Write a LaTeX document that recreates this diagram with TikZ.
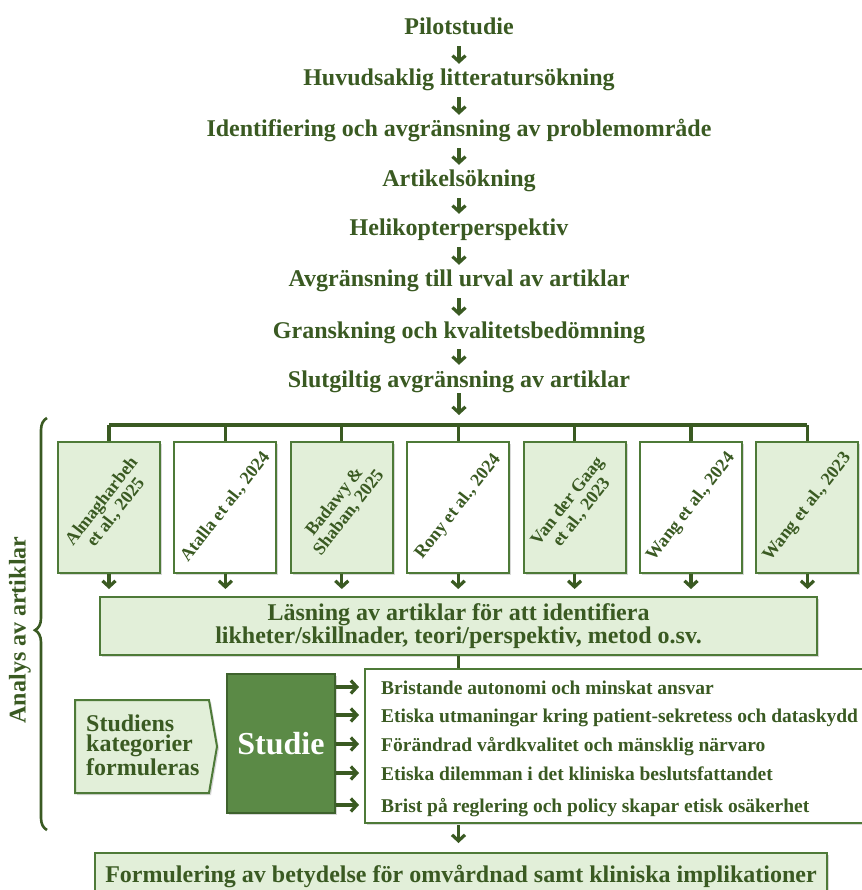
\documentclass[tikz,border=0pt]{standalone}
\usepackage{fontspec}
\setmainfont{Liberation Serif}
\usetikzlibrary{arrows.meta,shadows,decorations.pathreplacing,calc}
\definecolor{tg}{HTML}{3A5A22}
\definecolor{lg}{HTML}{E2EFD9}
\definecolor{bd}{HTML}{4E7A38}
\definecolor{dg}{HTML}{5B8A46}
\begin{document}
\begin{tikzpicture}[x=1pt,y=-1pt,
  flowtxt/.style={font=\fontsize{24}{24}\selectfont\bfseries, text=tg, inner sep=0pt,
    text height=17pt, text depth=5pt, anchor=base},
  arr/.style={draw=tg, line width=3.2pt, -{Straight Barb[length=6pt,width=13pt]}},
  conn/.style={draw=tg, line width=3.2pt},
  shad/.style={drop shadow={shadow xshift=2pt,shadow yshift=-2pt,fill=black!50,opacity=0.3}},
  box/.style={draw=bd, line width=2pt, shad, inner sep=0pt},
  artbox/.style={box, minimum width=102pt, minimum height=131pt},
  arttxt/.style={font=\fontsize{18}{18}\selectfont\bfseries, text=tg, rotate=52, align=center, inner sep=0pt},
  cattxt/.style={font=\fontsize{19.5}{19.5}\selectfont\bfseries, text=tg, inner sep=0pt,
    text height=14pt, text depth=0pt, anchor=west},
]
\useasboundingbox (0,0) rectangle (861,890);
\fill[white] (0,0) rectangle (861,890);

% top flow
\node[flowtxt] (n1) at (459,35) {Pilotstudie};
\node[flowtxt] (n2) at (459,86) {Huvudsaklig litteratursökning};
\node[flowtxt] (n3) at (459,137) {Identifiering och avgränsning av problemområde};
\node[flowtxt] (n4) at (459,187) {Artikelsökning};
\node[flowtxt] (n5) at (459,236) {Helikopterperspektiv};
\node[flowtxt] (n6) at (459,287) {Avgränsning till urval av artiklar};
\node[flowtxt] (n7) at (459,338) {Granskning och kvalitetsbedömning};
\node[flowtxt] (n8) at (459,387) {Slutgiltig avgränsning av artiklar};
\foreach \a/\b in {n1/n2,n2/n3,n3/n4,n4/n5,n5/n6,n6/n7,n7/n8}
  \draw[arr, shorten <=6pt, shorten >=5pt] (\a.south) -- (\b.north);
\coordinate (barc) at (459,425);
\draw[arr, shorten <=1pt, shorten >=10pt] (n8.south) -- (barc);

% article boxes
\node[artbox, fill=lg]    (a1) at (109,507)   {};
\node[artbox, fill=white] (a2) at (225.4,507) {};
\node[artbox, fill=lg]    (a3) at (341.8,507) {};
\node[artbox, fill=white] (a4) at (458.2,507) {};
\node[artbox, fill=lg]    (a5) at (574.6,507) {};
\node[artbox, fill=white] (a6) at (691,507)   {};
\node[artbox, fill=lg]    (a7) at (807.4,507) {};
\node[arttxt] (t1) at (a1) {Almagharbeh\\et al., 2025};
\node[arttxt] (t2) at (a2) {Atalla et al., 2024};
\node[arttxt] (t3) at (a3) {Badawy \&\\Shaban, 2025};
\node[arttxt] (t4) at (a4) {Rony et al., 2024};
\node[arttxt] (t5) at (a5) {Van der Gaag\\et al., 2023};
\node[arttxt] (t6) at (a6) {Wang et al., 2024};
\node[arttxt] (t7) at (a7) {Wang et al., 2023};

\draw[conn] (a1.north |- barc) -- (a7.north |- barc);

% reading box
\node[box, fill=lg, minimum width=717pt, minimum height=58pt, align=center,
  font=\fontsize{24}{21}\selectfont\bfseries, text=tg] (las) at (458.5,626)
  {Läsning av artiklar för att identifiera\\likheter/skillnader, teori/perspektiv, metod o.sv.};

\foreach \i in {1,...,7} {
  \draw[conn] (a\i.north |- barc) -- (a\i.north);
  \draw[arr, shorten >=7pt] (a\i.south) -- (a\i.south |- las.north);
}

% categories box
\node[box, fill=white, minimum width=515pt, minimum height=154pt] (cat) at (622.5,746) {};
\draw[conn] (las.south) -- (las.south |- cat.north);

\node[box, fill=dg, draw=bd!80!black, minimum width=108pt, minimum height=139pt,
  font=\fontsize{32}{32}\selectfont\bfseries, text=white] (stu) at (281,743.5) {Studie};

\node[cattxt] (c1) at (381,687) {Bristande autonomi och minskat ansvar};
\node[cattxt] (c2) at (381,715) {Etiska utmaningar kring patient-sekretess och dataskydd};
\node[cattxt] (c3) at (381,744) {Förändrad vårdkvalitet och mänsklig närvaro};
\node[cattxt] (c4) at (381,773) {Etiska dilemman i det kliniska beslutsfattandet};
\node[cattxt] (c5) at (381,805) {Brist på reglering och policy skapar etisk osäkerhet};
\foreach \i in {1,...,5}
  \draw[arr, shorten >=5pt] (stu.east |- c\i.west) -- (cat.west |- c\i.west);

% pentagon
\draw[draw=bd, line width=2pt, fill=lg, shad]
  (75,700) -- (209,700) -- (217,746.5) -- (209,793) -- (75,793) -- cycle;
\node[anchor=west, align=left, inner sep=0pt, font=\fontsize{24}{20.5}\selectfont\bfseries, text=tg]
  (skf) at (86,745) {Studiens\\kategorier\\formuleras};

% bottom box
\node[box, fill=lg, anchor=north, minimum width=732pt, inner ysep=12pt,
  text height=17pt, text depth=5pt, font=\fontsize{24}{24}\selectfont\bfseries, text=tg]
  (form) at (461,852) {Formulering av betydelse för omvårdnad samt kliniska implikationer};
\draw[arr, shorten <=1pt, shorten >=9pt] (las.south |- cat.south) -- (las.south |- form.north);

% brace and label
\coordinate (brb) at (47,830);
\coordinate (brt) at (47,418);
\draw[draw=tg, line width=2.6pt, decorate,
  decoration={brace, amplitude=12pt, aspect=0.485}] (brb) -- (brt);
\node[rotate=90, inner sep=0pt, font=\fontsize{24}{24}\selectfont\bfseries, text=tg]
  (lab) at (20,630) {Analys av artiklar};
\end{tikzpicture}
\end{document}
